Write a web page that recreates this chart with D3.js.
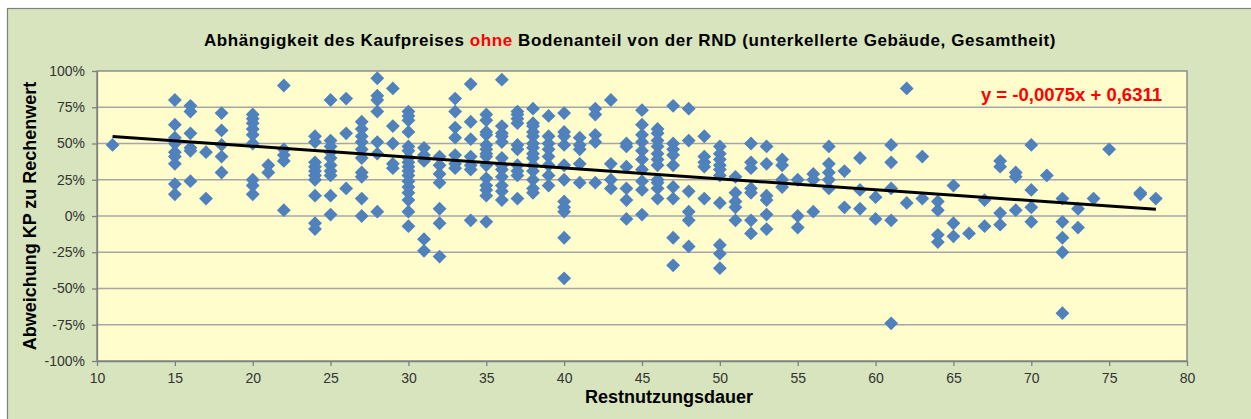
<!DOCTYPE html>
<html>
<head>
<meta charset="utf-8">
<script src="https://cdn.jsdelivr.net/npm/d3@7"></script>
<style>
  body { margin: 0; background: #fff; }
  svg { display: block; font-family: "Liberation Sans", Arial, sans-serif; }
  .grid line { stroke: #a6a6a6; stroke-width: 1.3; }
  .axis path, .axis line { stroke: #7f7f7f; stroke-width: 1.3; }
  .axis text { fill: #333; font-size: 14px; }
</style>
</head>
<body>
<div id="chart"></div>
<script>
// Restnutzungsdauer (Jahre) und Abweichung KP zu Rechenwert (%) je Spalte
var rndWerte = [11, 15, 16, 17, 18, 20, 21, 22, 24, 25, 26, 27, 28, 29, 30, 31, 32, 33, 34, 35,
  36, 37, 38, 39, 40, 41, 42, 43, 44, 45, 46, 47, 48, 49, 50, 51, 52, 53, 54, 55,
  56, 57, 58, 59, 60, 61, 62, 63, 64, 65, 66, 67, 68, 69, 70, 71, 72, 73, 74, 75, 77, 78];

var abweichungen = [
  [49],
  [80, 63, 54, 50, 44, 41, 36, 22, 15],
  [76, 72, 57, 47, 45, 24],
  [44, 12],
  [71, 59, 49, 41, 30],
  [70, 67, 64, 60, 56, 50, 25, 21, 15],
  [35, 30],
  [90, 46, 42, 38, 4],
  [55, 51, 37, 34, 31, 28, 25, 14, -5, -9],
  [80, 52, 48, 44, 40, 35, 31, 28, 14, 1],
  [81, 57, 19],
  [65, 60, 55, 51, 46, 40, 30, 27, 12, 0],
  [95, 83, 80, 72, 51, 43, 3],
  [88, 62, 50, 36, 33],
  [72, 69, 66, 58, 48, 45, 40, 37, 34, 31, 28, 24, 20, 16, 11, 3, -7],
  [47, 42, 38, -16, -24],
  [41, 35, 29, 23, 5, -5, -28],
  [81, 72, 61, 54, 42, 36, 33],
  [91, 65, 53, 41, 35, 32, -3],
  [70, 66, 58, 56, 49, 46, 43, 41, 35, 26, 21, 18, 14, -4],
  [94, 62, 57, 55, 51, 40, 35, 32, 27, 21, 17, 11],
  [72, 70, 67, 64, 49, 46, 35, 31, 28, 12],
  [74, 64, 62, 58, 55, 50, 47, 43, 40, 35, 31, 25, 19, 16],
  [69, 55, 50, 46, 41, 35, 28, 21],
  [71, 58, 55, 49, 35, 25, 10, 6, 3, -15, -43],
  [54, 49, 46, 36, 23],
  [74, 70, 56, 51, 23],
  [80, 36, 25, 19],
  [50, 48, 34, 19, 11, -2],
  [73, 63, 56, 51, 45, 39, 32, 24, 18, 1],
  [60, 57, 52, 48, 43, 39, 35, 25, 23, 19, 12],
  [76, 50, 46, 42, 35, 20, 12, -15, -34],
  [74, 52, 17, 3, -3, -21],
  [55, 41, 37, 34, 12],
  [48, 43, 39, 35, 32, 28, 9, -20, -26, -36],
  [27, 16, 10, 6, -3],
  [50, 37, 33, 19, 16, -3, -12],
  [48, 36, 14, 11, 1, -9],
  [39, 35, 25, 20],
  [25, 0, -8],
  [29, 25, 3],
  [48, 36, 30, 25, 19],
  [31, 6],
  [40, 18, 5],
  [13, -2],
  [49, 37, 19, -3, -74],
  [88, 9],
  [41, 12],
  [10, 4, -13, -18],
  [21, -5, -14],
  [-12],
  [11, -7],
  [38, 34, 2, -6],
  [30, 27, 4],
  [49, 18, 6, -4],
  [28],
  [12, -4, -15, -25, -67],
  [5, -8],
  [12],
  [46],
  [16, 15],
  [12]
];

var xTicks = [10, 15, 20, 25, 30, 35, 40, 45, 50, 55, 60, 65, 70, 75, 80];
var yTicks = [-1, -0.75, -0.5, -0.25, 0, 0.25, 0.5, 0.75, 1];
var trendSteigung = -0.0075;
var trendAchse = 0.6311;

var width = 1251, height = 419;
var plot = { left: 97, right: 1187, top: 71, bottom: 361 };

var punkte = [];
rndWerte.forEach(function(rnd, i) {
  abweichungen[i].forEach(function(v) {
    punkte.push({ x: rnd, y: v / 100 });
  });
});

var svg = d3.select("#chart").append("svg")
  .attr("width", width).attr("height", height);

// chart background
svg.append("rect")
  .attr("x", 7.5).attr("y", 8.5)
  .attr("width", width + 10).attr("height", height + 10)
  .attr("fill", "#d7e4bd").attr("stroke", "#7f7f7f").attr("stroke-width", 1.2);

var x = d3.scaleLinear().domain([10, 80]).range([plot.left, plot.right]);
var y = d3.scaleLinear().domain([-1, 1]).range([plot.bottom, plot.top]);

svg.append("rect")
  .attr("x", plot.left).attr("y", plot.top)
  .attr("width", plot.right - plot.left).attr("height", plot.bottom - plot.top)
  .attr("fill", "#fffdcc").attr("stroke", "#7f7f7f").attr("stroke-width", 1.3);

svg.append("g").attr("class", "grid")
  .selectAll("line").data(yTicks.filter(function(d) { return d > -1 && d < 1; }))
  .enter().append("line")
  .attr("x1", plot.left).attr("x2", plot.right)
  .attr("y1", function(d) { return y(d); }).attr("y2", function(d) { return y(d); });

var pct = function(d) { return Math.round(d * 100) + "%"; };

svg.append("g").attr("class", "axis")
  .attr("transform", "translate(" + plot.left + ",0)")
  .call(d3.axisLeft(y).tickValues(yTicks).tickFormat(pct).tickSize(5).tickPadding(7).tickSizeOuter(0));

svg.append("g").attr("class", "axis")
  .attr("transform", "translate(0," + plot.bottom + ")")
  .call(d3.axisBottom(x).tickValues(xTicks).tickFormat(d3.format("d")).tickSize(5).tickPadding(7).tickSizeOuter(0));

// points (diamonds)
var raute = d3.symbol().type(d3.symbolDiamond2).size(122);
svg.append("g").selectAll("path").data(punkte).enter().append("path")
  .attr("d", raute)
  .attr("transform", function(d) { return "translate(" + x(d.x) + "," + y(d.y) + ")"; })
  .attr("fill", "#4f81bd");

// linear trend
var xMin = d3.min(punkte, function(d) { return d.x; });
var xMax = d3.max(punkte, function(d) { return d.x; });
svg.append("line")
  .attr("x1", x(xMin)).attr("y1", y(trendSteigung * xMin + trendAchse))
  .attr("x2", x(xMax)).attr("y2", y(trendSteigung * xMax + trendAchse))
  .attr("stroke", "#000").attr("stroke-width", 3);

svg.append("text")
  .attr("x", 1162).attr("y", 101)
  .attr("text-anchor", "end")
  .attr("fill", "#ff0000").attr("font-weight", "bold").attr("font-size", "18.5px")
  .text("y = -0,0075x + 0,6311");

// title
var titel = svg.append("text")
  .attr("x", 630).attr("y", 46)
  .attr("text-anchor", "middle")
  .attr("font-weight", "bold").attr("font-size", "17px").attr("letter-spacing", "0.6px")
  .attr("fill", "#000");
titel.append("tspan").text("Abhängigkeit des Kaufpreises ");
titel.append("tspan").attr("fill", "#ff0000").text("ohne");
titel.append("tspan").text(" Bodenanteil von der RND (unterkellerte Gebäude, Gesamtheit)");

svg.append("text")
  .attr("transform", "translate(36," + (plot.top + plot.bottom) / 2 + ") rotate(-90)")
  .attr("text-anchor", "middle")
  .attr("font-weight", "bold").attr("font-size", "18px")
  .text("Abweichung KP zu Rechenwert");

svg.append("text")
  .attr("x", 669).attr("y", 403)
  .attr("text-anchor", "middle")
  .attr("font-weight", "bold").attr("font-size", "18px")
  .text("Restnutzungsdauer");
</script>
</body>
</html>
